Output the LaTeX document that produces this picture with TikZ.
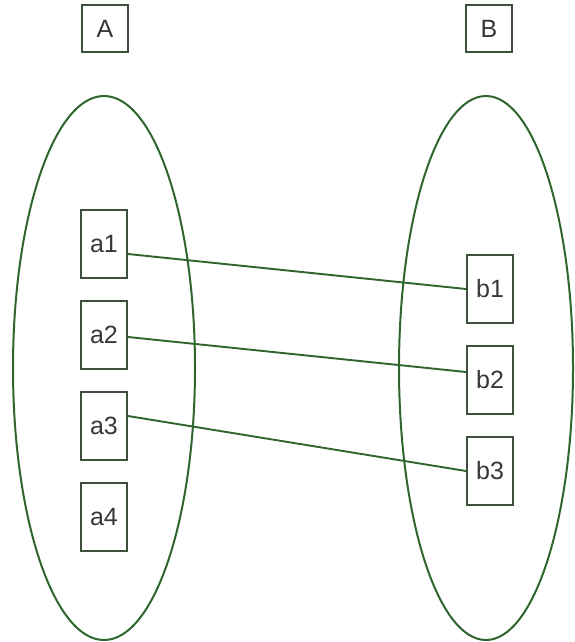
\documentclass[tikz,border=0pt]{standalone}
\usepackage{fontspec}
\setmainfont{Liberation Sans}
\usetikzlibrary{shapes.geometric}
\definecolor{setgreen}{RGB}{46,102,46}
\definecolor{boxgray}{RGB}{60,80,60}
\definecolor{txtgray}{RGB}{55,55,55}
\def \ax{104}
\def \bx{490}
\def \d{91}

\begin{document}
\begin{tikzpicture}[x=1pt, y=-1pt,
    elem/.style={shape=rectangle, draw=boxgray, line width=2pt, minimum width=46pt, minimum height=68pt, inner sep=0pt, text=txtgray, font=\fontsize{25}{27}\selectfont},
    title/.style={elem, minimum height=47pt},
    set/.style={shape=ellipse, draw=setgreen, line width=2pt, inner sep=0pt},
    link/.style={draw=setgreen, line width=1.9pt}]
    \useasboundingbox (0,0) rectangle (574,642);
    \node[set, minimum width=182pt, minimum height=544pt] (SA) at (104, 368) {};
    \node[set, minimum width=174pt, minimum height=544pt] (SB) at (486, 368) {};
    \node[title] (A) at (105, 28.5) {A};
    \node[title] (B) at (489, 28.5) {B};
    \node[elem] (a1) at (\ax, 244) {a1};
    \node[elem] (a2) at (\ax, 244+\d) {a2};
    \node[elem] (a3) at (\ax, 244+2*\d) {a3};
    \node[elem] (a4) at (\ax, 244+3*\d) {a4};
    \node[elem] (b1) at (\bx, 289) {b1};
    \node[elem] (b2) at (\bx, 289+\d) {b2};
    \node[elem] (b3) at (\bx, 289+2*\d) {b3};
    \path[link] ([yshift=-10pt]a1.east) -- (b1.west);
    \path[link] ([yshift=-2pt]a2.east) -- ([yshift=8pt]b2.west);
    \path[link] ([yshift=10pt]a3.east) -- (b3.west);
\end{tikzpicture}
\end{document}
